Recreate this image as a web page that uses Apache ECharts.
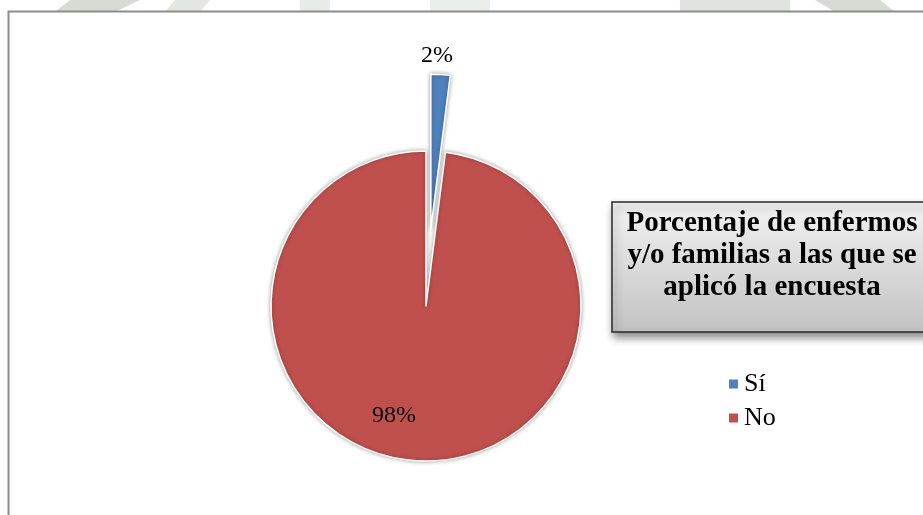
<!DOCTYPE html>
<html>
<head>
<meta charset="utf-8">
<title>Porcentaje de enfermos y/o familias</title>
<script src="https://cdn.jsdelivr.net/npm/echarts@6/dist/echarts.min.js"></script>
<style>
  html, body { margin: 0; padding: 0; background: #ffffff; }
  #chart { width: 923px; height: 515px; }
</style>
</head>
<body>
<div id="chart"></div>
<script>
// Survey answers and their share (%)
const categories = ['Sí', 'No'];
const values = [2, 98];
const colors = ['#4F81BD', '#C0504D'];
const titleLines = [
  'Porcentaje de enfermos',
  'y/o familias a las que se',
  'aplicó la encuesta'
];

const chart = echarts.init(document.getElementById('chart'), null, { renderer: 'canvas' });

// Label nudges (px) so each percentage sits where it reads best
const labelShift = [
  { dx: 1, dy: -93 },
  { dx: -27, dy: 29 }
];

const option = {
  backgroundColor: '#ffffff',
  animation: false,
  graphic: [
    // faint watermark patches outside the chart frame
    { type: 'polygon', silent: true, z: -10,
      shape: { points: [[70, 0], [140, 0], [115, 12], [55, 12]] },
      style: { fill: '#d6dbd3' } },
    { type: 'polygon', silent: true, z: -10,
      shape: { points: [[175, 0], [210, 0], [200, 12], [165, 12]] },
      style: { fill: '#e4e7e1' } },
    { type: 'rect', silent: true, z: -10,
      shape: { x: 300, y: 0, width: 30, height: 12 },
      style: { fill: '#e9ebe7' } },
    { type: 'rect', silent: true, z: -10,
      shape: { x: 430, y: 0, width: 60, height: 12 },
      style: { fill: '#eceeea' } },
    { type: 'rect', silent: true, z: -10,
      shape: { x: 680, y: 0, width: 110, height: 12 },
      style: { fill: '#e0e4de' } },
    { type: 'polygon', silent: true, z: -10,
      shape: { points: [[815, 0], [880, 0], [895, 12], [835, 12]] },
      style: { fill: '#d6dbd3' } },
    // chart frame
    { type: 'rect', silent: true, z: -5,
      shape: { x: 8.5, y: 11.5, width: 1000, height: 600 },
      style: { fill: '#ffffff', stroke: '#8c8c8c', lineWidth: 2 } }
  ],
  title: {
    text: titleLines.join('\n'),
    left: 757,
    top: 202,
    textAlign: 'center',
    padding: [6, 15, 28, 15],
    backgroundColor: {
      type: 'linear', x: 0, y: 0, x2: 0, y2: 1,
      colorStops: [
        { offset: 0, color: '#f3f3f3' },
        { offset: 1, color: '#c2c2c2' }
      ]
    },
    borderColor: '#2a2a2a',
    borderWidth: 1.5,
    shadowColor: 'rgba(0,0,0,0.45)',
    shadowBlur: 8,
    shadowOffsetX: 2,
    shadowOffsetY: 5,
    textStyle: {
      fontFamily: 'Liberation Serif',
      fontWeight: 'bold',
      fontSize: 29,
      lineHeight: 32,
      color: '#000000'
    }
  },
  legend: {
    orient: 'vertical',
    left: 722,
    top: 365,
    itemWidth: 11,
    itemHeight: 11,
    itemGap: 6,
    icon: 'rect',
    data: categories,
    textStyle: {
      fontFamily: 'Liberation Serif',
      fontSize: 26,
      lineHeight: 28,
      color: '#000000'
    }
  },
  series: [{
    type: 'pie',
    center: [426, 306],
    radius: 155,
    startAngle: 90,
    clockwise: true,
    selectedMode: 'single',
    selectedOffset: 77,
    avoidLabelOverlap: false,
    silent: true,
    itemStyle: {
      borderColor: '#ffffff',
      borderWidth: 1.5,
      shadowBlur: 4,
      shadowColor: 'rgba(0,0,0,0.35)'
    },
    label: {
      show: true,
      position: 'inside',
      formatter: '{c}%',
      fontFamily: 'Liberation Serif',
      fontSize: 24,
      color: '#000000'
    },
    labelLine: { show: false },
    labelLayout: function (params) {
      return labelShift[params.dataIndex];
    },
    data: categories.map((name, i) => ({
      name: name,
      value: values[i],
      selected: i === 0,
      itemStyle: { color: colors[i] }
    }))
  }]
};

chart.setOption(option);
</script>
</body>
</html>
